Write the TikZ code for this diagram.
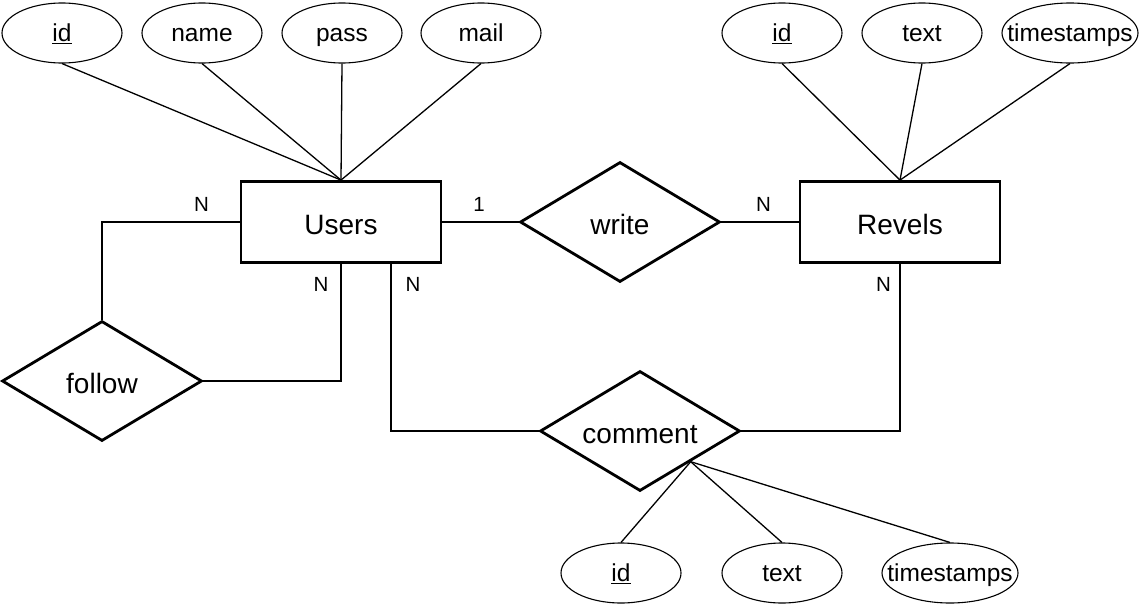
\documentclass[tikz,border=0pt]{standalone}
\usepackage{fontspec}
\setmainfont{Liberation Sans}
\usetikzlibrary{shapes.geometric,positioning}
\tikzset{
  entity/.style={draw,line width=2.8pt,minimum width=200pt,minimum height=81pt,inner sep=0pt,text height=26pt,text depth=2pt,font=\fontsize{28}{32}\selectfont},
  relation/.style={draw,diamond,aspect=1.667,line width=2.8pt,minimum width=200pt,minimum height=120pt,inner sep=0pt,text height=26pt,text depth=2pt,font=\fontsize{28}{32}\selectfont},
  attr/.style={draw,ellipse,line width=1.1pt,minimum width=120pt,minimum height=60pt,inner sep=0pt,text height=19pt,text depth=2pt,
    execute at begin node={\hbox to 0pt\bgroup\hss},execute at end node={\hss\egroup},font=\fontsize{24.5}{28}\selectfont},
  link/.style={line width=1.3pt},
  card/.style={anchor=base,inner sep=0pt,font=\fontsize{20.5}{24}\selectfont}
}
\begin{document}
\begin{tikzpicture}[x=1pt,y=-1pt]
\useasboundingbox (0,0) rectangle (1144,603);
% entities and relationships
\node[entity] (users) at (341,222) {Users};
\node[entity] (revels) at (900,222) {Revels};
\node[relation] (write) at (620,222) {write};
\node[relation] (follow) at (102,381) {follow};
\node[relation] (comment) at (640,431) {comment};
% attributes
\foreach \n/\x/\t in {uid/62/\underline{id},uname/202/name,upass/342/pass,umail/481/mail} {
  \node[attr] (\n) at (\x,33) {\t};
  \draw[link] (\n.south) -- (users.north);
}
\node[attr] (rid) at (782,33) {\underline{id}};
\node[attr] (rtext) at (922,33) {text};
\node[attr,minimum width=136pt] (rtime) at (1070,33) {timestamps};
\foreach \n in {rid,rtext,rtime} {\draw[link] (\n.south) -- (revels.north);}
\node[attr] (cid) at (621,573) {\underline{id}};
\node[attr] (ctext) at (782,573) {text};
\node[attr,minimum width=136pt] (ctime) at (950,573) {timestamps};
\foreach \n in {cid,ctext,ctime} {\draw[link] (comment.south east) -- (\n.north);}
% relationship lines
\draw[link] (users.east) -- (write.west);
\draw[link] (write.east) -- (revels.west);
\draw[link] (users.west) -| (follow.north);
\draw[link] (follow.east) -| (users.south);
\draw[link] ([xshift=50pt]users.south) |- (comment.west);
\draw[link] (comment.east) -| (revels.south);
% cardinalities
\node[card] at (201.5,211) {N};
\node[card] at (479,211) {1};
\node[card] at (763.5,211.5) {N};
\node[card] at (321,291.5) {N};
\node[card] at (413,291.5) {N};
\node[card] at (883.5,291.5) {N};
\end{tikzpicture}
\end{document}
